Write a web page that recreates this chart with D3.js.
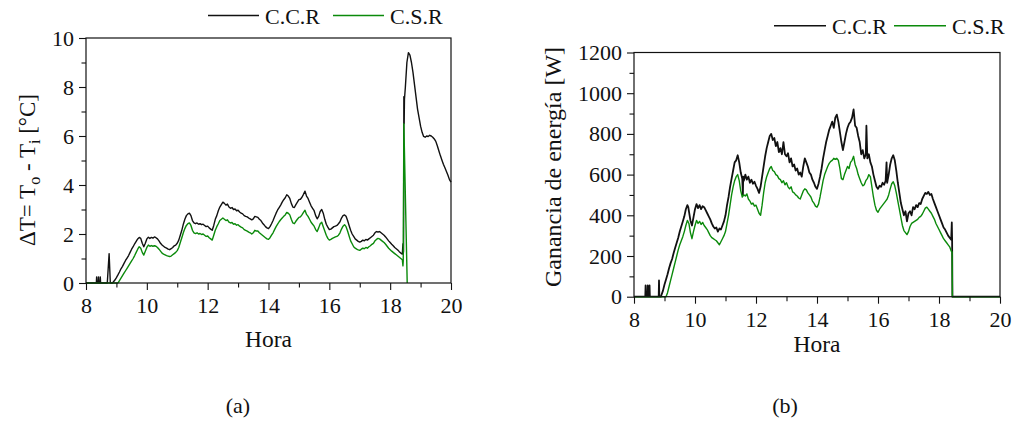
<!DOCTYPE html>
<html>
<head>
<meta charset="utf-8">
<script src="https://cdn.jsdelivr.net/npm/d3@7"></script>
<style>
  html, body { margin: 0; padding: 0; background: #fff; }
  svg { display: block; }
  svg text { font-family: "Liberation Serif", "Times New Roman", serif !important; fill: #111; }
</style>
</head>
<body>
<svg id="chart" width="1014" height="423"></svg>
<script>
// ---- Series: [hour, value] ----
// (a) Temperature difference ΔT (°C), with cover (C.C.R) and without cover (C.S.R)
const dtCCR = [
  [8.00,0],[8.34,0],[8.35,0.25],[8.36,0],[8.40,0],[8.41,0.25],[8.42,0],[8.46,0],[8.47,0.25],[8.48,0],
  [8.70,0],[8.76,1.2],[8.80,0],[8.87,0],
  [8.95,0.12],[9.0,0.22],[9.05,0.33],[9.1,0.45],[9.15,0.58],[9.2,0.68],[9.25,0.8],[9.3,0.92],[9.35,1.02],
  [9.4,1.12],[9.45,1.25],[9.5,1.38],[9.55,1.48],[9.6,1.6],[9.65,1.7],[9.7,1.8],[9.75,1.86],[9.8,1.82],
  [9.85,1.62],[9.9,1.48],[9.95,1.62],[10.0,1.8],[10.05,1.87],[10.1,1.82],[10.15,1.86],[10.2,1.83],
  [10.25,1.88],[10.3,1.85],[10.35,1.8],[10.4,1.72],[10.45,1.62],[10.5,1.55],[10.55,1.5],[10.6,1.45],
  [10.65,1.42],[10.7,1.38],[10.75,1.36],[10.8,1.4],[10.85,1.45],[10.9,1.52],[10.95,1.55],[11.0,1.62],
  [11.05,1.75],[11.1,1.95],[11.15,2.15],[11.2,2.4],[11.25,2.6],[11.3,2.75],[11.35,2.82],[11.4,2.85],
  [11.45,2.75],[11.5,2.55],[11.55,2.45],[11.6,2.42],[11.65,2.45],[11.7,2.4],[11.75,2.42],[11.8,2.38],
  [11.85,2.4],[11.9,2.35],[11.95,2.3],[12.0,2.32],[12.05,2.25],[12.1,2.2],[12.15,2.15],[12.2,2.35],
  [12.25,2.6],[12.3,2.75],[12.35,2.95],[12.4,3.1],[12.45,3.2],[12.5,3.3],[12.55,3.25],[12.6,3.18],
  [12.65,3.22],[12.7,3.1],[12.75,3.05],[12.8,3.08],[12.85,3.0],[12.9,3.02],[12.95,2.95],[13.0,2.97],
  [13.05,2.9],[13.1,2.85],[13.15,2.82],[13.2,2.75],[13.25,2.72],[13.3,2.7],[13.35,2.65],[13.4,2.62],
  [13.45,2.58],[13.5,2.62],[13.55,2.72],[13.6,2.7],[13.65,2.68],[13.7,2.6],[13.75,2.55],[13.8,2.45],
  [13.85,2.38],[13.9,2.3],[13.95,2.25],[14.0,2.22],[14.05,2.3],[14.1,2.42],[14.15,2.55],[14.2,2.7],
  [14.25,2.85],[14.3,2.98],[14.35,3.08],[14.4,3.18],[14.45,3.3],[14.5,3.4],[14.55,3.48],[14.6,3.6],
  [14.65,3.55],[14.7,3.45],[14.75,3.25],[14.8,3.1],[14.85,3.08],[14.9,3.2],[14.95,3.3],[15.0,3.4],
  [15.05,3.42],[15.1,3.5],[15.15,3.62],[15.2,3.75],[15.25,3.55],[15.3,3.45],[15.35,3.3],[15.4,3.15],
  [15.45,3.05],[15.5,2.95],[15.55,2.75],[15.6,2.62],[15.65,2.72],[15.7,2.92],[15.75,3.0],[15.8,2.85],
  [15.85,2.6],[15.9,2.4],[15.95,2.28],[16.0,2.18],[16.05,2.2],[16.1,2.25],[16.15,2.3],[16.2,2.32],
  [16.25,2.35],[16.3,2.42],[16.35,2.5],[16.4,2.65],[16.45,2.75],[16.5,2.78],[16.55,2.72],[16.6,2.55],
  [16.65,2.35],[16.7,2.15],[16.75,2.0],[16.8,1.9],[16.85,1.8],[16.9,1.75],[16.95,1.7],[17.0,1.67],
  [17.05,1.7],[17.1,1.75],[17.15,1.72],[17.2,1.78],[17.25,1.75],[17.3,1.8],[17.35,1.85],[17.4,1.9],
  [17.45,1.95],[17.5,2.05],[17.55,2.1],[17.6,2.08],[17.65,2.1],[17.7,2.05],[17.75,2.0],[17.8,1.95],
  [17.85,1.88],[17.9,1.8],[17.95,1.72],[18.0,1.65],[18.05,1.58],[18.1,1.52],[18.15,1.45],[18.2,1.4],
  [18.25,1.35],[18.3,1.28],[18.35,1.22],[18.4,1.18],[18.42,1.6],[18.43,1.2],[18.44,1.3],[18.45,7.6],
  [18.46,6.5],[18.47,7.5],[18.5,8.0],[18.55,9.0],[18.6,9.4],[18.65,9.3],[18.7,9.0],[18.75,8.6],
  [18.8,8.1],[18.85,7.6],[18.9,7.1],[18.95,6.75],[19.0,6.4],[19.05,6.15],[19.1,5.98],[19.15,5.95],
  [19.2,6.0],[19.25,5.98],[19.3,6.03],[19.35,6.0],[19.4,5.95],[19.45,5.88],[19.5,5.78],[19.55,5.6],
  [19.6,5.4],[19.65,5.2],[19.7,5.02],[19.75,4.85],[19.8,4.7],[19.85,4.55],[19.9,4.4],[19.95,4.22],[20.0,4.12]
];
const dtCSR = [
  [8.0,0],[9.05,0],[9.1,0.1],[9.15,0.2],[9.2,0.3],[9.25,0.4],[9.3,0.5],[9.35,0.6],[9.4,0.7],[9.45,0.8],
  [9.5,0.9],[9.55,1.0],[9.6,1.12],[9.65,1.25],[9.7,1.38],[9.75,1.48],[9.8,1.42],[9.85,1.25],[9.9,1.14],
  [9.95,1.3],[10.0,1.45],[10.05,1.55],[10.1,1.5],[10.15,1.53],[10.2,1.5],[10.25,1.52],[10.3,1.5],
  [10.35,1.45],[10.4,1.38],[10.45,1.3],[10.5,1.22],[10.55,1.18],[10.6,1.15],[10.65,1.12],[10.7,1.1],
  [10.75,1.08],[10.8,1.1],[10.85,1.15],[10.9,1.2],[10.95,1.25],[11.0,1.32],[11.05,1.45],[11.1,1.65],
  [11.15,1.85],[11.2,2.05],[11.25,2.22],[11.3,2.35],[11.35,2.42],[11.4,2.45],[11.45,2.35],[11.5,2.15],
  [11.55,2.05],[11.6,2.02],[11.65,2.05],[11.7,2.0],[11.75,2.02],[11.8,1.98],[11.85,2.0],[11.9,1.95],
  [11.95,1.9],[12.0,1.92],[12.05,1.85],[12.1,1.8],[12.15,1.75],[12.2,1.95],[12.25,2.15],[12.3,2.3],
  [12.35,2.42],[12.4,2.55],[12.45,2.6],[12.5,2.65],[12.55,2.6],[12.6,2.55],[12.65,2.58],[12.7,2.48],
  [12.75,2.45],[12.8,2.47],[12.85,2.4],[12.9,2.42],[12.95,2.36],[13.0,2.38],[13.05,2.32],[13.1,2.28],
  [13.15,2.25],[13.2,2.18],[13.25,2.15],[13.3,2.12],[13.35,2.08],[13.4,2.05],[13.45,2.0],[13.5,2.05],
  [13.55,2.15],[13.6,2.12],[13.65,2.12],[13.7,2.05],[13.75,2.0],[13.8,1.95],[13.85,1.9],[13.9,1.85],
  [13.95,1.8],[14.0,1.78],[14.05,1.85],[14.1,1.95],[14.15,2.05],[14.2,2.18],[14.25,2.3],[14.3,2.4],
  [14.35,2.5],[14.4,2.58],[14.45,2.65],[14.5,2.72],[14.55,2.78],[14.6,2.88],[14.65,2.85],[14.7,2.78],
  [14.75,2.6],[14.8,2.45],[14.85,2.42],[14.9,2.52],[14.95,2.6],[15.0,2.68],[15.05,2.7],[15.1,2.78],
  [15.15,2.88],[15.2,2.97],[15.25,2.8],[15.3,2.72],[15.35,2.6],[15.4,2.48],[15.45,2.4],[15.5,2.32],
  [15.55,2.18],[15.6,2.1],[15.65,2.25],[15.7,2.42],[15.75,2.48],[15.8,2.3],[15.85,2.12],[15.9,1.95],
  [15.95,1.82],[16.0,1.75],[16.05,1.78],[16.1,1.82],[16.15,1.85],[16.2,1.88],[16.25,1.9],[16.3,1.95],
  [16.35,2.05],[16.4,2.2],[16.45,2.32],[16.5,2.38],[16.55,2.3],[16.6,2.12],[16.65,1.92],[16.7,1.72],
  [16.75,1.6],[16.8,1.48],[16.85,1.42],[16.9,1.38],[16.95,1.35],[17.0,1.33],[17.05,1.38],[17.1,1.42],
  [17.15,1.4],[17.2,1.45],[17.25,1.42],[17.3,1.48],[17.35,1.52],[17.4,1.58],[17.45,1.62],[17.5,1.72],
  [17.55,1.78],[17.6,1.82],[17.65,1.8],[17.7,1.75],[17.75,1.7],[17.8,1.65],[17.85,1.58],[17.9,1.5],
  [17.95,1.42],[18.0,1.36],[18.05,1.3],[18.1,1.25],[18.15,1.2],[18.2,1.15],[18.25,1.1],[18.3,1.05],
  [18.35,1.0],[18.4,0.95],[18.42,0.7],[18.43,0.9],[18.45,6.5],[18.56,0]
];

// (b) Energy gain (W)
const egCCR = [
  [8.0,0],[8.37,0],[8.38,55],[8.39,0],[8.44,0],[8.45,55],[8.46,0],[8.5,0],[8.51,55],[8.52,0],
  [8.81,0],[8.82,80],[8.83,0],[8.88,0],
  [8.95,30],[9.0,60],[9.05,85],[9.1,110],[9.15,140],[9.2,165],[9.25,185],[9.3,215],[9.35,240],[9.4,265],
  [9.45,290],[9.5,320],[9.55,345],[9.6,370],[9.65,395],[9.7,430],[9.75,450],[9.78,440],[9.8,420],
  [9.85,375],[9.9,350],[9.95,390],[10.0,430],[10.05,455],[10.1,435],[10.15,450],[10.2,430],[10.25,445],
  [10.3,440],[10.35,425],[10.4,410],[10.45,395],[10.5,380],[10.55,360],[10.6,345],[10.65,335],
  [10.7,340],[10.75,320],[10.8,335],[10.85,330],[10.9,350],[10.95,370],[11.0,400],[11.05,450],
  [11.1,490],[11.15,540],[11.2,580],[11.25,620],[11.3,660],[11.35,670],[11.4,695],[11.45,660],
  [11.5,610],[11.55,580],[11.57,500],[11.58,590],[11.6,570],[11.65,600],[11.7,575],[11.75,590],
  [11.8,560],[11.85,575],[11.9,555],[11.95,565],[12.0,545],[12.05,530],[12.1,510],[12.15,540],
  [12.2,590],[12.25,640],[12.3,690],[12.35,730],[12.4,760],[12.45,790],[12.5,800],[12.55,770],
  [12.6,780],[12.65,740],[12.7,760],[12.75,710],[12.8,730],[12.85,700],[12.9,760],[12.95,700],
  [13.0,690],[13.05,705],[13.1,660],[13.15,680],[13.2,640],[13.25,650],[13.3,620],[13.35,630],
  [13.4,600],[13.45,610],[13.5,590],[13.55,640],[13.6,680],[13.65,660],[13.7,640],[13.75,610],
  [13.8,600],[13.85,575],[13.9,560],[13.95,540],[14.0,530],[14.05,555],[14.1,590],[14.15,630],
  [14.2,680],[14.25,720],[14.3,760],[14.35,790],[14.4,820],[14.45,840],[14.5,860],[14.55,830],
  [14.6,880],[14.65,895],[14.7,860],[14.75,810],[14.8,760],[14.85,720],[14.9,760],[14.95,800],
  [15.0,830],[15.05,850],[15.1,860],[15.15,880],[15.2,920],[15.25,840],[15.3,830],[15.35,790],
  [15.4,760],[15.45,700],[15.5,720],[15.55,680],[15.6,700],[15.62,840],[15.65,680],[15.7,700],
  [15.75,660],[15.8,640],[15.85,600],[15.9,570],[15.95,540],[16.0,530],[16.05,545],[16.1,540],
  [16.15,560],[16.2,550],[16.25,570],[16.28,660],[16.3,560],[16.35,600],[16.4,650],[16.45,680],
  [16.5,695],[16.55,670],[16.6,620],[16.65,560],[16.7,510],[16.75,460],[16.8,430],[16.85,400],
  [16.9,420],[16.95,370],[17.0,410],[17.05,420],[17.1,400],[17.15,440],[17.2,430],[17.25,450],
  [17.3,440],[17.35,460],[17.4,455],[17.45,480],[17.5,495],[17.55,510],[17.6,505],[17.65,515],
  [17.7,500],[17.75,505],[17.8,480],[17.85,460],[17.9,440],[17.95,420],[18.0,400],[18.05,380],
  [18.1,360],[18.15,340],[18.2,330],[18.25,315],[18.3,300],[18.35,290],[18.4,280],[18.42,365],
  [18.43,280],[18.44,0],[20.0,0]
];
const egCSR = [
  [8.0,0],[9.05,0],[9.1,20],[9.15,50],[9.2,80],[9.25,110],[9.3,140],[9.35,170],[9.4,200],[9.45,230],
  [9.5,255],[9.55,275],[9.6,295],[9.65,320],[9.7,350],[9.75,375],[9.8,360],[9.85,315],[9.9,285],
  [9.95,320],[10.0,350],[10.05,375],[10.1,360],[10.15,370],[10.2,355],[10.25,365],[10.3,350],
  [10.35,340],[10.4,330],[10.45,315],[10.5,300],[10.55,290],[10.6,285],[10.65,280],[10.7,275],
  [10.75,265],[10.8,255],[10.85,270],[10.9,285],[10.95,300],[11.0,320],[11.05,360],[11.1,400],
  [11.15,450],[11.2,500],[11.25,540],[11.3,570],[11.35,590],[11.4,600],[11.45,570],[11.5,520],
  [11.55,490],[11.6,500],[11.65,495],[11.7,505],[11.75,480],[11.8,470],[11.85,455],[11.9,460],
  [11.95,445],[12.0,450],[12.05,430],[12.1,410],[12.15,400],[12.2,450],[12.25,510],[12.3,560],
  [12.35,590],[12.4,610],[12.45,630],[12.5,640],[12.55,620],[12.6,615],[12.65,600],[12.7,595],
  [12.75,580],[12.8,575],[12.85,560],[12.9,570],[12.95,550],[13.0,560],[13.05,540],[13.1,530],
  [13.15,540],[13.2,515],[13.25,510],[13.3,500],[13.35,495],[13.4,485],[13.45,480],[13.5,500],
  [13.55,520],[13.6,530],[13.65,525],[13.7,510],[13.75,500],[13.8,490],[13.85,470],[13.9,460],
  [13.95,445],[14.0,440],[14.05,455],[14.1,490],[14.15,530],[14.2,570],[14.25,600],[14.3,620],
  [14.35,640],[14.4,655],[14.45,665],[14.5,670],[14.55,680],[14.6,675],[14.65,680],[14.7,670],
  [14.75,630],[14.8,580],[14.85,575],[14.9,600],[14.95,620],[15.0,640],[15.05,630],[15.1,660],
  [15.15,670],[15.2,690],[15.25,650],[15.3,630],[15.35,600],[15.4,580],[15.45,560],[15.5,545],
  [15.55,550],[15.6,570],[15.65,580],[15.7,600],[15.75,590],[15.8,540],[15.85,490],[15.9,450],
  [15.95,425],[16.0,415],[16.05,430],[16.1,440],[16.15,450],[16.2,460],[16.25,470],[16.3,480],
  [16.35,500],[16.4,530],[16.45,555],[16.5,565],[16.55,545],[16.6,510],[16.65,470],[16.7,430],
  [16.75,390],[16.8,350],[16.85,325],[16.9,315],[16.95,305],[17.0,320],[17.05,345],[17.1,360],
  [17.15,365],[17.2,370],[17.25,375],[17.3,380],[17.35,390],[17.4,395],[17.45,405],[17.5,420],
  [17.55,435],[17.6,440],[17.65,430],[17.7,420],[17.75,410],[17.8,395],[17.85,380],[17.9,360],
  [17.95,345],[18.0,330],[18.05,315],[18.1,300],[18.15,285],[18.2,275],[18.25,265],[18.3,255],
  [18.35,245],[18.4,225],[18.43,220],[18.44,0],[20.0,0]
];

// ---- Axis tick values and labels ----
const hourTicks = [8, 10, 12, 14, 16, 18, 20];
const hourMinorTicks = [9, 11, 13, 15, 17, 19];
const dtTicks = [0, 2, 4, 6, 8, 10];
const dtMinorTicks = [1, 3, 5, 7, 9];
const egTicks = [0, 200, 400, 600, 800, 1000, 1200];
const egMinorTicks = [100, 300, 500, 700, 900, 1100];
const seriesNames = ["C.C.R", "C.S.R"];
const seriesColors = ["#111111", "#0b8a0b"];
const panelCaptions = ["(a)", "(b)"];

const SERIF = "'Liberation Serif', 'Times New Roman', serif";
const svg = d3.select("#chart");

function drawPanel(opts) {
  const { left, right, top, bottom, yDomain, yTicks, yMinor, series, yLabel,
          xLabelBaseline, legend, caption } = opts;
  const x = d3.scaleLinear().domain([8, 20]).range([left, right]);
  const y = d3.scaleLinear().domain(yDomain).range([bottom, top]);
  const g = svg.append("g");

  // data lines (black first, green on top)
  const line = d3.line().x(d => x(d[0])).y(d => y(d[1]));
  series.forEach((s, i) => {
    g.append("path")
      .datum(s.data)
      .attr("fill", "none")
      .attr("stroke", seriesColors[i])
      .attr("stroke-width", s.width)
      .attr("stroke-linejoin", "round")
      .attr("d", line);
  });

  // frame
  g.append("rect")
    .attr("x", left).attr("y", top)
    .attr("width", right - left).attr("height", bottom - top)
    .attr("fill", "none").attr("stroke", "#111").attr("stroke-width", 1.2);

  // bottom axis: major + minor
  const xAxis = g.append("g").attr("transform", `translate(0,${bottom})`)
    .call(d3.axisBottom(x).tickValues(hourTicks).tickSize(7).tickSizeOuter(0).tickPadding(7.5)
      .tickFormat(d3.format("d")));
  const xMinor = g.append("g").attr("transform", `translate(0,${bottom})`)
    .call(d3.axisBottom(x).tickValues(hourMinorTicks).tickSize(4.5).tickSizeOuter(0).tickFormat(""));

  // left axis: major + minor
  const yAxis = g.append("g").attr("transform", `translate(${left},0)`)
    .call(d3.axisLeft(y).tickValues(yTicks).tickSize(7).tickSizeOuter(0).tickPadding(5)
      .tickFormat(d3.format("d")));
  const yMinorAxis = g.append("g").attr("transform", `translate(${left},0)`)
    .call(d3.axisLeft(y).tickValues(yMinor).tickSize(4.5).tickSizeOuter(0).tickFormat(""));

  [xAxis, xMinor, yAxis, yMinorAxis].forEach(a => {
    a.attr("font-family", SERIF).attr("font-size", 22);
    a.select(".domain").remove();
    a.selectAll("line").attr("stroke", "#111").attr("stroke-width", 1.1);
    a.selectAll("text").style("font-family", SERIF).style("font-size", "22px").attr("fill", "#111");
  });

  // x axis title
  g.append("text")
    .attr("x", (left + right) / 2).attr("y", xLabelBaseline)
    .attr("text-anchor", "middle").style("font-size", "23.5px")
    .text("Hora");

  // y axis title
  yLabel(g);

  // legend
  seriesNames.forEach((name, i) => {
    const lx = legend.x[i];
    g.append("line")
      .attr("x1", lx).attr("x2", lx + legend.len)
      .attr("y1", legend.y).attr("y2", legend.y)
      .attr("stroke", seriesColors[i]).attr("stroke-width", 1.6);
    g.append("text")
      .attr("x", lx + legend.len + 6).attr("y", legend.y + 8)
      .style("font-size", "22px")
      .text(name);
  });

  // panel caption
  svg.append("text")
    .attr("x", caption.x).attr("y", caption.y)
    .attr("text-anchor", "middle").style("font-size", "22px")
    .text(caption.text);
}

// Panel (a): ΔT
drawPanel({
  left: 86, right: 451, top: 38, bottom: 283,
  yDomain: [0, 10], yTicks: dtTicks, yMinor: dtMinorTicks,
  series: [{ data: dtCCR, width: 1.4 }, { data: dtCSR, width: 1.4 }],
  xLabelBaseline: 347,
  legend: { x: [208, 333], y: 15.5, len: 51 },
  caption: { x: 238, y: 413, text: panelCaptions[0] },
  yLabel: g => {
    const t = g.append("text")
      .attr("transform", "translate(35,170) rotate(-90)")
      .attr("text-anchor", "middle").style("font-size", "23px");
    t.append("tspan").text("ΔT= T");
    t.append("tspan").style("font-size", "16px").attr("dy", 5).text("o");
    t.append("tspan").attr("dy", -5).text(" - T");
    t.append("tspan").style("font-size", "16px").attr("dy", 5).text("i");
    t.append("tspan").attr("dy", -5).text(" [°C]");
  }
});

// Panel (b): energy gain
drawPanel({
  left: 634, right: 1000, top: 52.5, bottom: 296.7,
  yDomain: [0, 1200], yTicks: egTicks, yMinor: egMinorTicks,
  series: [{ data: egCCR, width: 1.8 }, { data: egCSR, width: 1.4 }],
  xLabelBaseline: 352,
  legend: { x: [774, 894], y: 25.7, len: 52 },
  caption: { x: 785, y: 413, text: panelCaptions[1] },
  yLabel: g => {
    g.append("text")
      .attr("transform", "translate(561,167) rotate(-90)")
      .attr("text-anchor", "middle").style("font-size", "24px")
      .text("Ganancia de energía [W]");
  }
});
</script>
</body>
</html>
